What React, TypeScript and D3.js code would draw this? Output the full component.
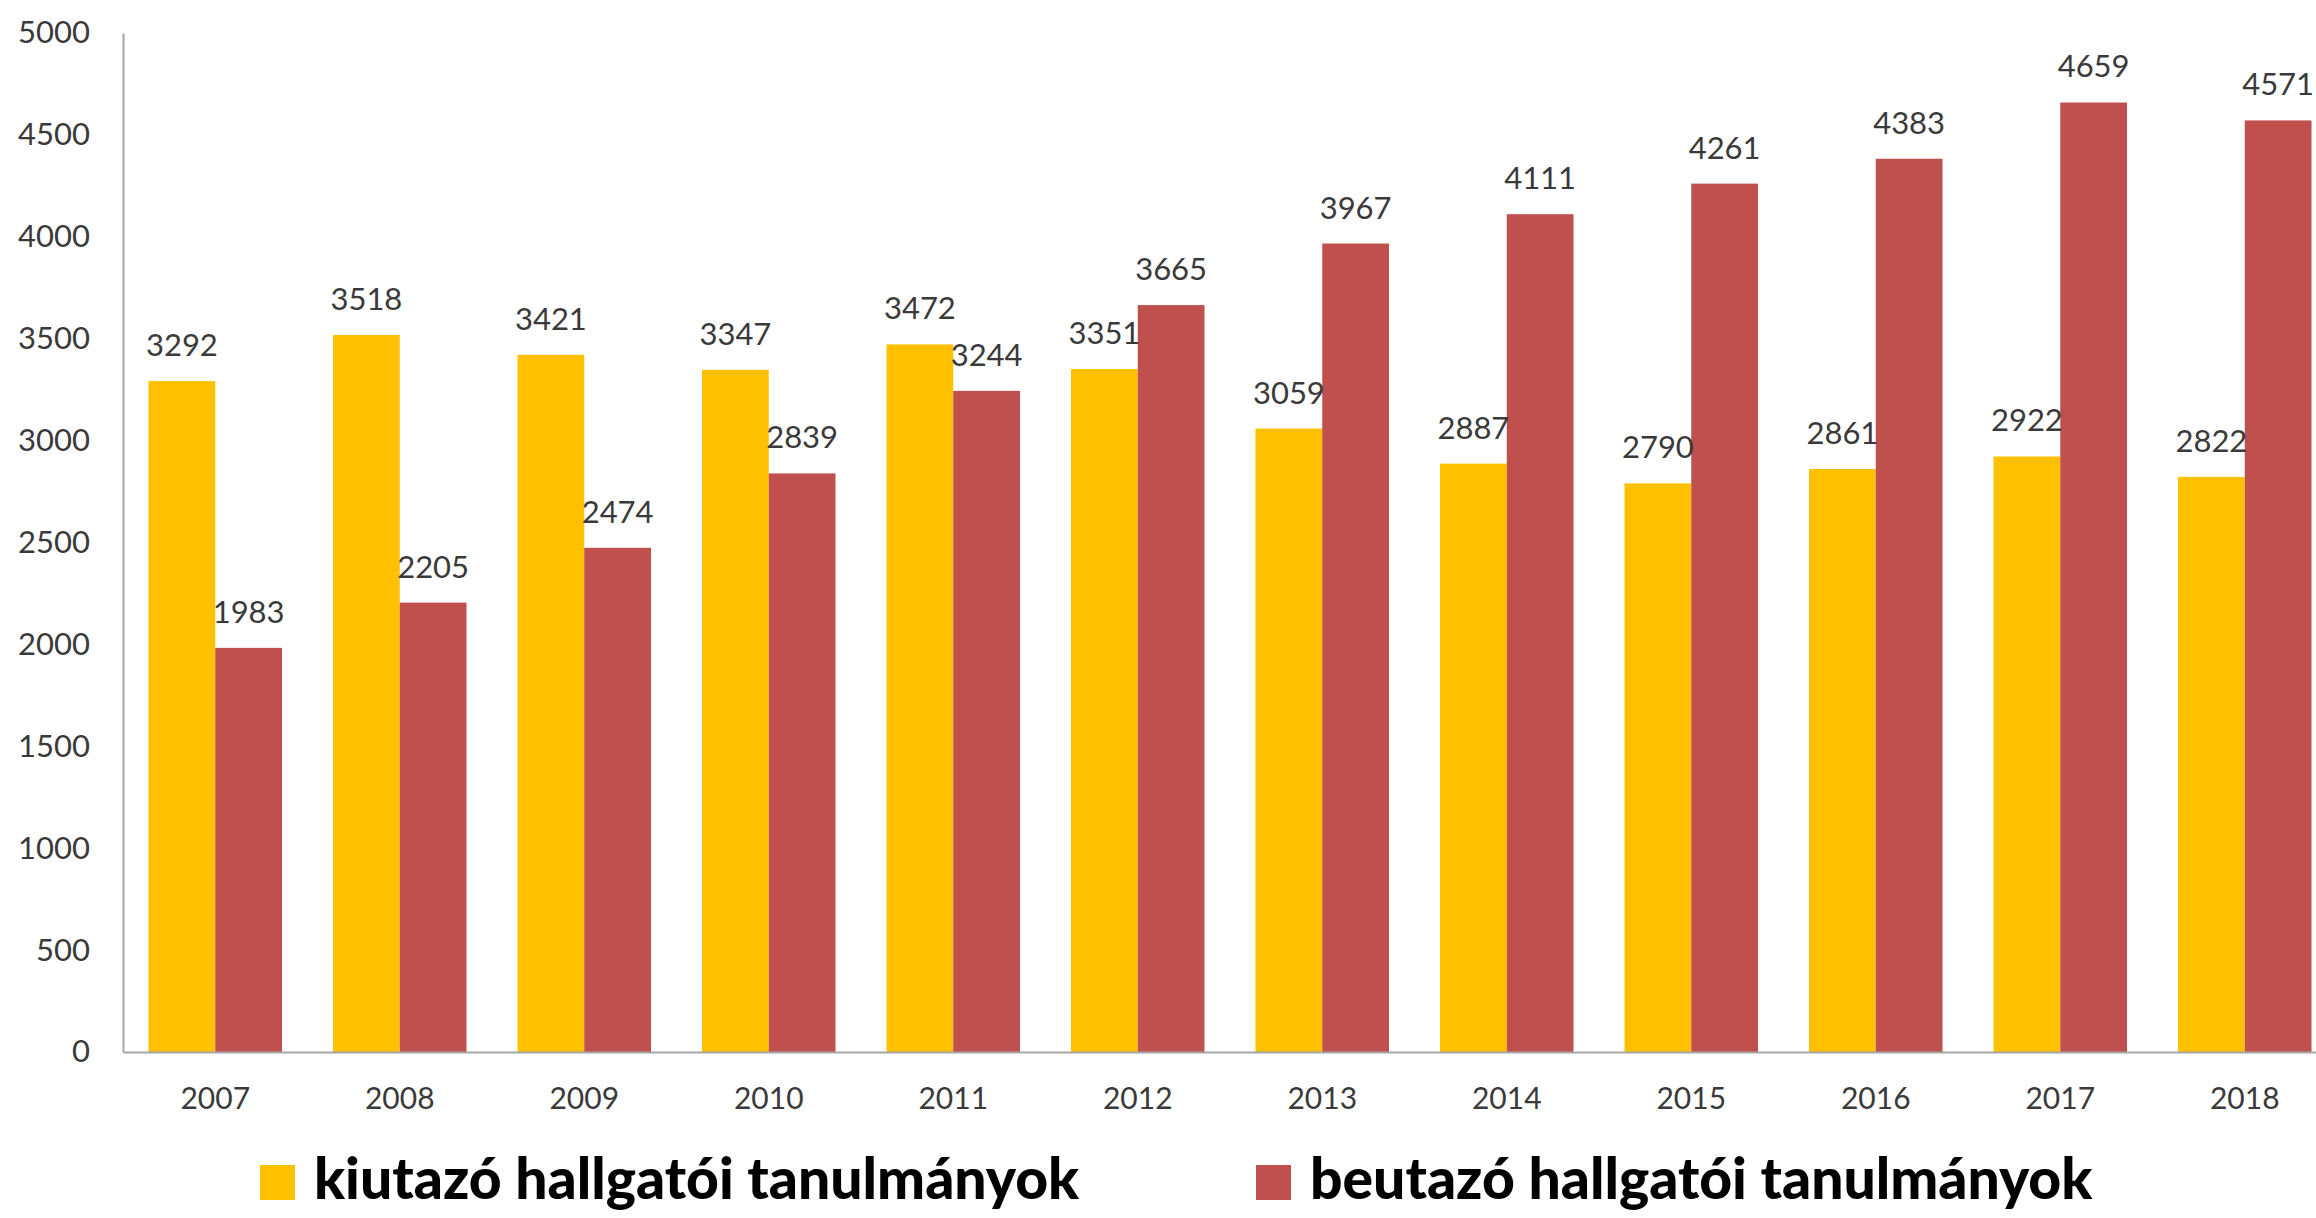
import React, { useEffect, useRef } from 'react';
import * as d3 from 'd3';

const years = ['2007', '2008', '2009', '2010', '2011', '2012', '2013', '2014', '2015', '2016', '2017', '2018'];
const kiutazo = [3292, 3518, 3421, 3347, 3472, 3351, 3059, 2887, 2790, 2861, 2922, 2822];
const beutazo = [1983, 2205, 2474, 2839, 3244, 3665, 3967, 4111, 4261, 4383, 4659, 4571];
const seriesNames = ['kiutazó hallgatói tanulmányok', 'beutazó hallgatói tanulmányok'];
const seriesColors = ['#FFC000', '#C0504D'];
const yTicks = [0, 500, 1000, 1500, 2000, 2500, 3000, 3500, 4000, 4500, 5000];

const W = 2316;
const H = 1218;
const FONT = 'Lato, "Open Sans", sans-serif';

const App: React.FC = () => {
  const svgRef = useRef<SVGSVGElement>(null);

  useEffect(() => {
    if (!svgRef.current) return;
    const svg = d3.select(svgRef.current);
    svg.selectAll('*').remove();

    const left = 123;
    const step = 184.5;
    const bottom = 1052;
    const top = 33;

    const x = d3.scaleBand()
      .domain(years)
      .range([left, left + step * years.length])
      .paddingInner(0.2764)
      .paddingOuter(0.1382);

    const x1 = d3.scaleBand()
      .domain(['0', '1'])
      .range([0, x.bandwidth()]);

    const y = d3.scaleLinear()
      .domain([0, 5000])
      .range([bottom, top]);

    const data = years.map((yr, i) => ({ year: yr, values: [kiutazo[i], beutazo[i]] }));

    // bars
    const groups = svg.append('g')
      .selectAll('g')
      .data(data)
      .join('g')
      .attr('transform', d => `translate(${x(d.year)},0)`);

    groups.selectAll('rect')
      .data(d => d.values.map((v, k) => ({ v, k })))
      .join('rect')
      .attr('x', d => x1(String(d.k)) as number)
      .attr('y', d => y(d.v))
      .attr('width', x1.bandwidth())
      .attr('height', d => bottom - y(d.v))
      .attr('fill', d => seriesColors[d.k]);

    groups.selectAll('text')
      .data(d => d.values.map((v, k) => ({ v, k })))
      .join('text')
      .attr('x', d => (x1(String(d.k)) as number) + x1.bandwidth() / 2)
      .attr('y', d => y(d.v) - 25)
      .attr('text-anchor', 'middle')
      .attr('font-family', FONT)
      .attr('font-size', 31)
      .attr('fill', '#3a3a3a')
      .text(d => d.v);

    // y axis
    const yAxis = svg.append('g')
      .attr('transform', `translate(${left},0)`)
      .call(d3.axisLeft(y).tickValues(yTicks).tickFormat(d3.format('d')).tickSize(0).tickPadding(33));
    yAxis.select('.domain').attr('stroke', '#a6a6a6').attr('stroke-width', 2);
    yAxis.selectAll('text')
      .attr('font-family', FONT)
      .attr('font-size', 31)
      .attr('fill', '#3a3a3a');

    // x axis
    const xAxis = svg.append('g')
      .attr('transform', `translate(0,${bottom})`)
      .call(d3.axisBottom(x).tickSize(0).tickPadding(36).tickSizeOuter(0));
    xAxis.select('.domain').attr('stroke', '#a6a6a6').attr('stroke-width', 2);
    xAxis.selectAll('text')
      .attr('font-family', FONT)
      .attr('font-size', 30)
      .attr('fill', '#3a3a3a');

    // legend
    const legendX = [260, 1256];
    const legend = svg.append('g')
      .selectAll('g')
      .data(seriesNames)
      .join('g')
      .attr('transform', (_, i) => `translate(${legendX[i]},1165)`);
    legend.append('rect')
      .attr('width', 35)
      .attr('height', 35)
      .attr('fill', (_, i) => seriesColors[i]);
    legend.append('text')
      .attr('x', 54)
      .attr('y', 34)
      .attr('font-family', FONT)
      .attr('font-weight', 900)
      .attr('font-size', 57)
      .attr('fill', '#000')
      .text(d => d);
  }, []);

  return (
    <svg
      ref={svgRef}
      width={W}
      height={H}
      style={{ position: 'absolute', left: 0, top: 0, background: '#fff' }}
    />
  );
};

export default App;
